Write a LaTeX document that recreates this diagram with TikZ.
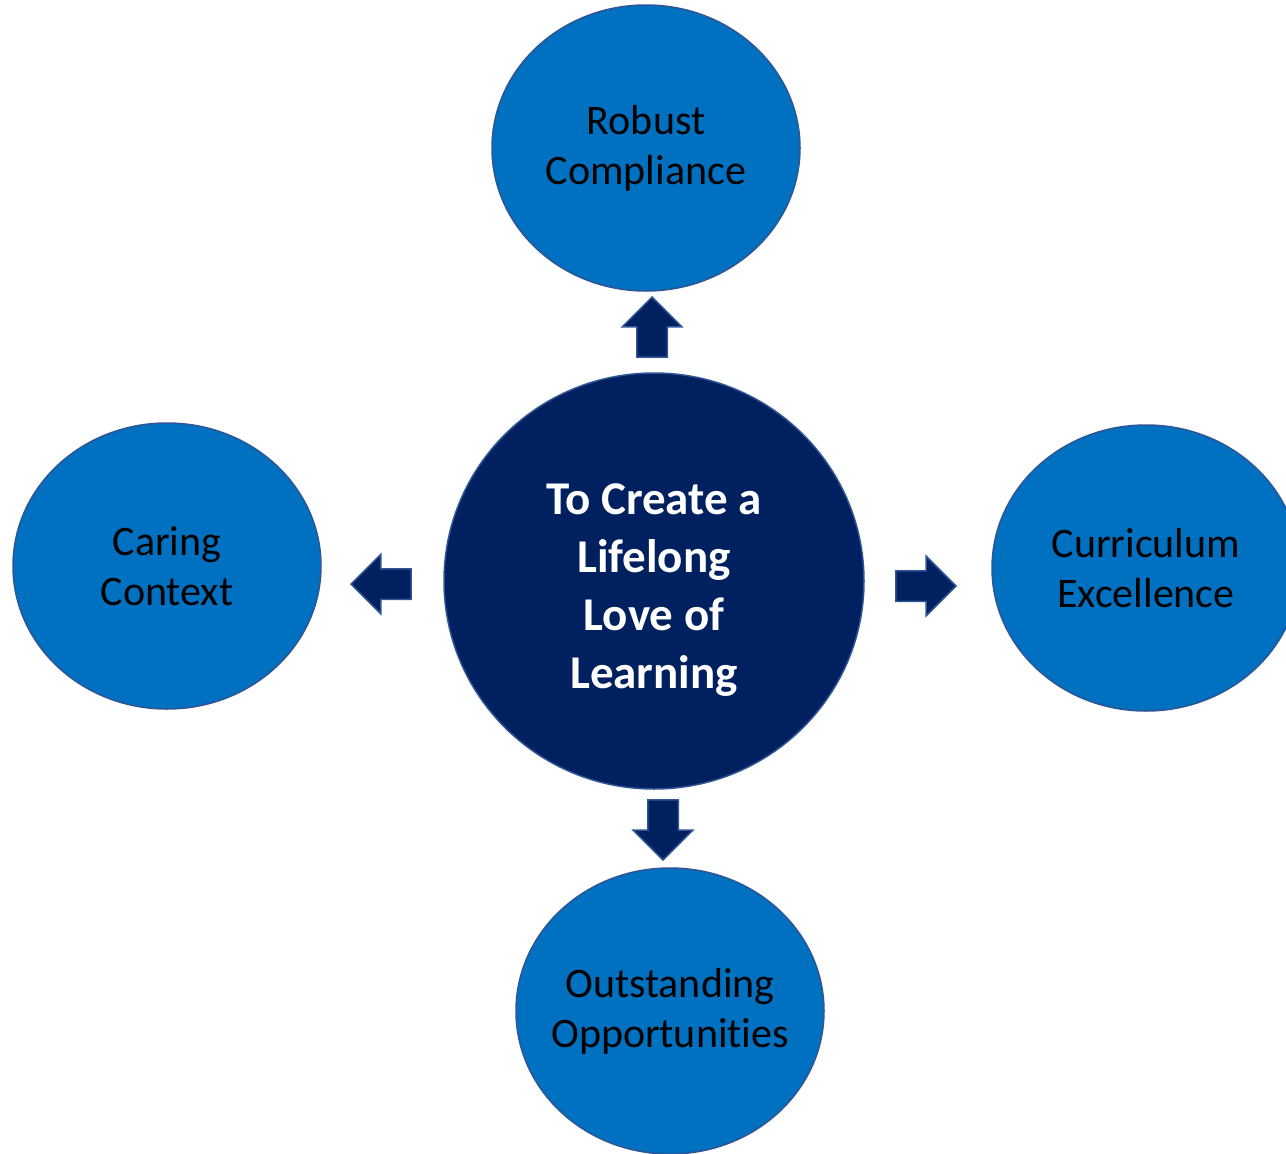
\documentclass[tikz,border=0pt]{standalone}
\usepackage{fontspec}
\setmainfont{Carlito}[Ligatures=CommonOff]
\usetikzlibrary{shapes.geometric,shapes.arrows}
\definecolor{petal}{HTML}{0070C0}
\definecolor{petalrim}{HTML}{2F5597}
\definecolor{hubfill}{HTML}{002060}
\tikzset{
    petal/.style={ellipse,draw=petalrim,fill=petal,line width=1.5pt,
        minimum width=308pt,minimum height=286pt,inner sep=0pt,
        label={[align=center,font=\fontsize{42}{50}\selectfont]center:#1}},
    pointer/.style={single arrow,draw=petalrim,fill=hubfill,line width=1.5pt,
        minimum height=60pt,inner sep=14.5pt,anchor=tip,
        single arrow head extend=14.5pt}
}
\begin{document}
\begin{tikzpicture}[x=1pt,y=-1pt]
    \useasboundingbox (0,0) rectangle (1286,1154);

    \node [ellipse,draw=petalrim,fill=hubfill,line width=1.5pt,minimum width=420pt,
        minimum height=416pt,inner sep=0pt,
        label={[align=center,text=white,yshift=-9pt,
        font=\bfseries\fontsize{47}{58}\selectfont]center:To Create a\\Lifelong\\Love of\\Learning}]
        (hub) at (654,581) {};

    \begin{scope}[every node/.style={}]
        \node [petal={Robust\\Compliance}] (robust) at (646,148) {};
        \node [petal={Caring\\Context}] (caring) at (167,566) {};
        \node [petal={Curriculum\\Excellence}] (curric) at (1146,568) {};
        \node [petal={Outstanding\\Opportunities}] (outst) at (670,1011) {};
    \end{scope}

    \begin{scope}[every node/.style={pointer}]
        \node [shape border rotate=90] (toRobust) at (652,296) {};
        \node [shape border rotate=180] (toCaring) at (350,584) {};
        \node [shape border rotate=0] (toCurric) at (957,586) {};
        \node [shape border rotate=270] (toOutst) at (663,861) {};
    \end{scope}
\end{tikzpicture}
\end{document}
